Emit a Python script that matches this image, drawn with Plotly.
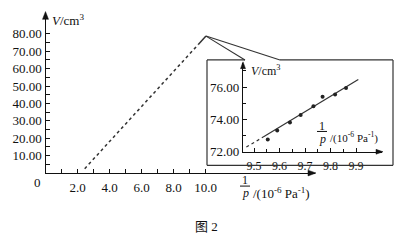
import plotly.graph_objects as go

W, H = 401, 240

# ---------------- data ----------------
# main chart
main_xtick_vals = [2, 4, 6, 8, 10]
main_xtick_text = ["2.0", "4.0", "6.0", "8.0", "10.0"]
main_xminor = [1, 3, 5, 7, 9]
main_ytick_vals = [10, 20, 30, 40, 50, 60, 70, 80]
main_ytick_text = ["10.00", "20.00", "30.00", "40.00", "50.00", "60.00", "70.00", "80.00"]
main_yminor = [5, 15, 25, 35, 45, 55, 65, 75]
main_dash_x = [2.45, 9.55]
main_dash_v = [2.5, 73.9]
main_mark_x = [9.55, 10.03]
main_mark_v = [73.9, 78.7]

# inset
inset_p = [9.554, 9.591, 9.641, 9.683, 9.733, 9.769, 9.818, 9.861]
inset_v = [72.76, 73.31, 73.81, 74.27, 74.81, 75.40, 75.54, 75.94]
inset_fit_dash_x = [9.47, 9.536]
inset_fit_dash_v = [72.29, 72.91]
inset_fit_x = [9.536, 9.909]
inset_fit_v = [72.91, 76.46]
inset_xtick_vals = [9.5, 9.6, 9.7, 9.8, 9.9]
inset_xtick_text = ["9.5", "9.6", "9.7", "9.8", "9.9"]
inset_xminor = [9.55, 9.65, 9.75, 9.85]
inset_ytick_vals = [72, 74, 76]
inset_ytick_text = ["72.00", "74.00", "76.00"]
inset_yminor = [73, 75, 77]

# ---------------- layout helpers ----------------
def px(x):
    return x / W

def py(y):
    return (H - y) / H

INK = "#111"
SERIF = "Liberation Serif, Times New Roman, serif"

# main axes pixel frame
MX0, MX1 = 45.5, 315.0
MY0, MY1 = 179.0, 13.0
M_XPU = 16.0        # px per unit x
M_YPU = 1.8         # px per unit V
main_xrange = [0, (MX1 - MX0) / M_XPU]
main_yrange = [0, (MY0 - MY1) / M_YPU]

# inset axes pixel frame
IX0, IX1 = 243.0, 382.0
IY0, IY1 = 157.0, 65.0
I_XPU = 255.0
I_YPU = 16.75
inset_xrange = [9.5 - (254 - IX0) / I_XPU, 9.5 + (IX1 - 254) / I_XPU]
inset_yrange = [72, 72 + (IY0 - IY1) / I_YPU]

def main_data_from_px(x, y):
    return (x - MX0) / M_XPU, (MY0 - y) / M_YPU

fig = go.Figure()

# main line
fig.add_trace(go.Scatter(x=main_dash_x, y=main_dash_v, mode="lines",
                         line=dict(color="#333", width=1.5, dash="3px,3px"),
                         xaxis="x", yaxis="y", showlegend=False))
fig.add_trace(go.Scatter(x=main_mark_x, y=main_mark_v, mode="lines",
                         line=dict(color="#333", width=1.5),
                         xaxis="x", yaxis="y", showlegend=False))

# inset
fig.add_trace(go.Scatter(x=inset_fit_dash_x, y=inset_fit_dash_v, mode="lines",
                         line=dict(color="#333", width=1.2, dash="3px,3px"),
                         xaxis="x2", yaxis="y2", showlegend=False))
fig.add_trace(go.Scatter(x=inset_fit_x, y=inset_fit_v, mode="lines",
                         line=dict(color="#333", width=1.2),
                         xaxis="x2", yaxis="y2", showlegend=False))
fig.add_trace(go.Scatter(x=inset_p, y=inset_v, mode="markers",
                         marker=dict(color="#222", size=4),
                         xaxis="x2", yaxis="y2", showlegend=False))

axis_common = dict(showgrid=False, zeroline=False, showline=True, linecolor=INK,
                   linewidth=1.3, ticks="inside", ticklen=4, tickwidth=1,
                   tickcolor=INK, tickfont=dict(family=SERIF, size=13, color=INK),
                   fixedrange=True)

fig.update_layout(
    width=W, height=H, autosize=False,
    margin=dict(l=0, r=0, t=0, b=0),
    paper_bgcolor="white", plot_bgcolor="white",
    xaxis=dict(axis_common, domain=[px(MX0), px(MX1)], range=main_xrange,
               tickmode="array", tickvals=main_xtick_vals, ticktext=main_xtick_text,
               minor=dict(tickvals=main_xminor, ticks="inside", ticklen=4, tickcolor=INK),
               anchor="y", ticklabelstandoff=2),
    yaxis=dict(axis_common, domain=[py(MY0), py(MY1)], range=main_yrange,
               tickmode="array", tickvals=main_ytick_vals, ticktext=main_ytick_text,
               minor=dict(tickvals=main_yminor, ticks="inside", ticklen=4, tickcolor=INK),
               anchor="x"),
    xaxis2=dict(axis_common, domain=[px(IX0), px(IX1)], range=inset_xrange,
                tickmode="array", tickvals=inset_xtick_vals, ticktext=inset_xtick_text,
                tickfont=dict(family=SERIF, size=12, color=INK),
                minor=dict(tickvals=inset_xminor, ticks="inside", ticklen=3, tickcolor=INK),
                anchor="y2", linewidth=1.1, ticklabelstandoff=3),
    yaxis2=dict(axis_common, domain=[py(IY0), py(IY1)], range=inset_yrange,
                tickmode="array", tickvals=inset_ytick_vals, ticktext=inset_ytick_text,
                minor=dict(tickvals=inset_yminor, ticks="inside", ticklen=3, tickcolor=INK),
                anchor="x2", linewidth=1.1),
)

# axis arrow heads (small filled triangles at the axis ends)
def tri(points):
    d = "M " + " L ".join(f"{px(x):.5f},{py(y):.5f}" for x, y in points) + " Z"
    fig.add_shape(type="path", xref="paper", yref="paper", path=d,
                  fillcolor=INK, line=dict(color=INK, width=0.5))

tri([(MX1 + 1, MY0), (MX1 - 7, MY0 - 3), (MX1 - 7, MY0 + 3)])
tri([(MX0, MY1 - 1), (MX0 - 3, MY1 + 7), (MX0 + 3, MY1 + 7)])
tri([(IX1 + 1, IY0), (IX1 - 6, IY0 - 2.5), (IX1 - 6, IY0 + 2.5)])
tri([(IX0, IY1 - 1), (IX0 - 2.5, IY1 + 6), (IX0 + 2.5, IY1 + 6)])

# inset box (callout)
box_l, box_r, box_t, box_b = 207, 393, 62, 171
gap_l, gap_r = 245, 280
box_style = dict(color="#333", width=1.2)
for (x0, y0, x1, y1) in [(box_l, box_t, box_l, box_b), (box_l, box_b, box_r, box_b),
                         (box_r, box_b, box_r, box_t), (box_l, box_t, gap_l, box_t),
                         (gap_r, box_t, box_r, box_t)]:
    fig.add_shape(type="line", xref="paper", yref="paper",
                  x0=px(x0), y0=py(y0), x1=px(x1), y1=py(y1), line=box_style)

# callout lines from the marker to the box
for gx in (gap_l, gap_r):
    ex, ev = main_data_from_px(gx, box_t)
    fig.add_shape(type="line", xref="x", yref="y",
                  x0=main_mark_x[-1], y0=main_mark_v[-1], x1=ex, y1=ev,
                  line=dict(color="#333", width=1.1))

def label(text, x, y, size=13, xanchor="center", family=SERIF):
    fig.add_annotation(text=text, x=px(x), y=py(y), xref="paper", yref="paper",
                       showarrow=False, xanchor=xanchor, yanchor="middle",
                       font=dict(family=family, size=size, color=INK))

# main labels
label("<i>V</i>/cm<sup>3</sup>", 50, 21, xanchor="left")
label("0", 37, 189)
label("1", 245, 186, size=12)
fig.add_shape(type="line", xref="paper", yref="paper", x0=px(240), x1=px(250),
              y0=py(192.5), y1=py(192.5), line=dict(color=INK, width=1))
label("<i>p</i>", 245, 200, size=12)
label("/(10<sup>-6</sup> Pa<sup>-1</sup>)", 251, 200, size=13, xanchor="left")

# inset labels
label("<i>V</i>/cm<sup>3</sup>", 249, 73, size=12, xanchor="left")
label("1", 322, 130, size=12)
fig.add_shape(type="line", xref="paper", yref="paper", x0=px(317), x1=px(327),
              y0=py(136), y1=py(136), line=dict(color=INK, width=1))
label("<i>p</i>", 322, 143.5, size=12)
label("/(10<sup>-6</sup> Pa<sup>-1</sup>)", 328, 142, size=11, xanchor="left")

# caption
label("图 2", 193, 234, size=13, xanchor="left",
      family="Liberation Serif, Noto Sans CJK SC, serif")

fig.write_html("out.html")
